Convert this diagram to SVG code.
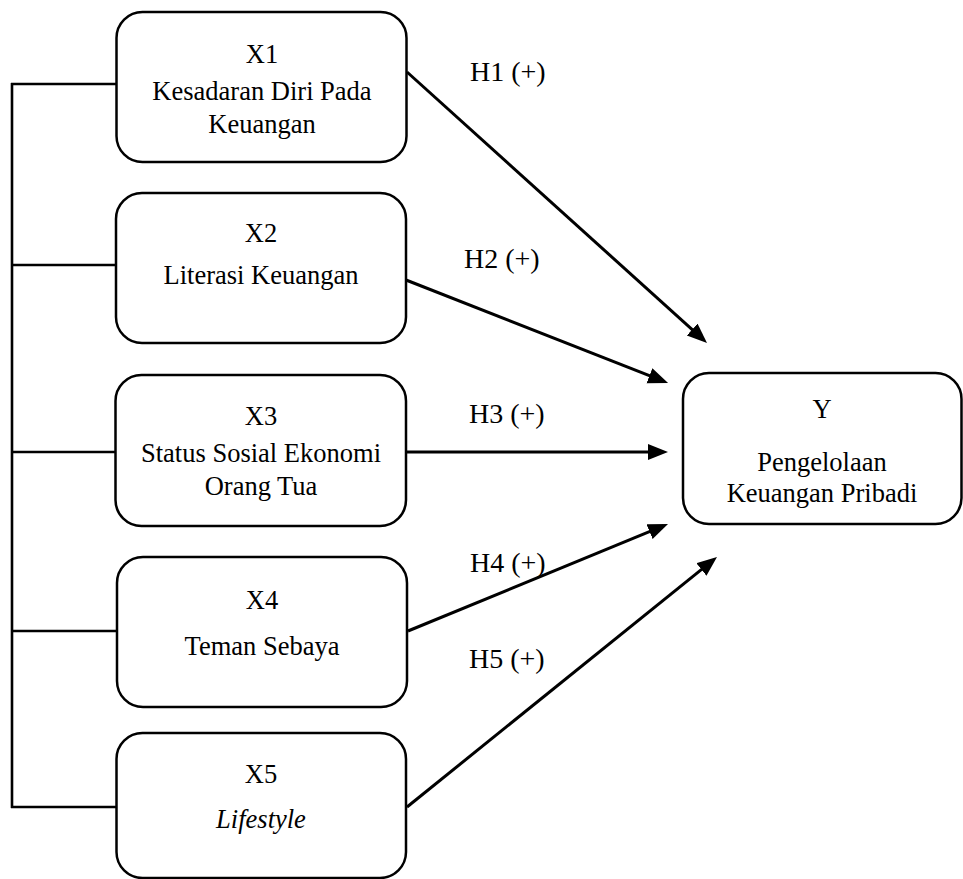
<svg xmlns="http://www.w3.org/2000/svg" width="963" height="879" viewBox="0 0 963 879">
<style>
.box{fill:#fff;stroke:#000;stroke-width:2.5}
.t{font-family:"Liberation Serif","Times New Roman",serif;font-size:26.5px;fill:#000;text-anchor:middle}
.h{font-family:"Liberation Serif","Times New Roman",serif;font-size:28px;fill:#000}
.ln{stroke:#000;stroke-width:2.6;fill:none}
.ar{stroke:#000;stroke-width:3;fill:none;marker-end:url(#arr)}
</style>
<defs>
<marker id="arr" markerUnits="userSpaceOnUse" markerWidth="22" markerHeight="18" refX="15" refY="8" orient="auto">
<path d="M0,0 L20,8 L0,16 z" fill="#000"/>
</marker>
</defs>
<g id="connectors">
<path class="ln" d="M12,83 V808"/>
<path class="ln" d="M11,84 H116 M11,265 H116 M11,452 H116 M11,631 H116 M11,807 H116"/>
<line class="ar" x1="407" y1="72" x2="703.3" y2="339.6"/>
<line class="ar" x1="406" y1="280" x2="663.4" y2="381.2"/>
<line class="ar" x1="406" y1="452" x2="663" y2="452"/>
<line class="ar" x1="408" y1="631" x2="663.4" y2="525.9"/>
<line class="ar" x1="407" y1="807" x2="713.1" y2="560.1"/>
<text class="h" x="470" y="81">H1 (+)</text>
<text class="h" x="464" y="268">H2 (+)</text>
<text class="h" x="469" y="423">H3 (+)</text>
<text class="h" x="470" y="572">H4 (+)</text>
<text class="h" x="469" y="668">H5 (+)</text>
</g>
<g id="x1">
<rect class="box" x="116.5" y="12" width="290" height="150" rx="26"/>
<text class="t" x="262" y="63">X1</text>
<text class="t" x="262" y="100">Kesadaran Diri Pada</text>
<text class="t" x="262" y="133">Keuangan</text>
</g>
<g id="x2">
<rect class="box" x="116" y="193" width="290" height="150" rx="26"/>
<text class="t" x="261" y="242">X2</text>
<text class="t" x="261" y="284">Literasi Keuangan</text>
</g>
<g id="x3">
<rect class="box" x="115.5" y="375" width="290.5" height="151" rx="26"/>
<text class="t" x="261" y="425">X3</text>
<text class="t" x="261" y="462">Status Sosial Ekonomi</text>
<text class="t" x="261" y="495">Orang Tua</text>
</g>
<g id="x4">
<rect class="box" x="117" y="557" width="290" height="150" rx="26"/>
<text class="t" x="262" y="609">X4</text>
<text class="t" x="262" y="655">Teman Sebaya</text>
</g>
<g id="x5">
<rect class="box" x="116.5" y="733" width="289.5" height="145" rx="26"/>
<text class="t" x="261" y="783">X5</text>
<text class="t" x="261" y="828" font-style="italic">Lifestyle</text>
</g>
<g id="y">
<rect class="box" x="683" y="373" width="278.5" height="151" rx="26"/>
<text class="t" x="822" y="418">Y</text>
<text class="t" x="822" y="471">Pengelolaan</text>
<text class="t" x="822" y="502">Keuangan Pribadi</text>
</g>
</svg>
